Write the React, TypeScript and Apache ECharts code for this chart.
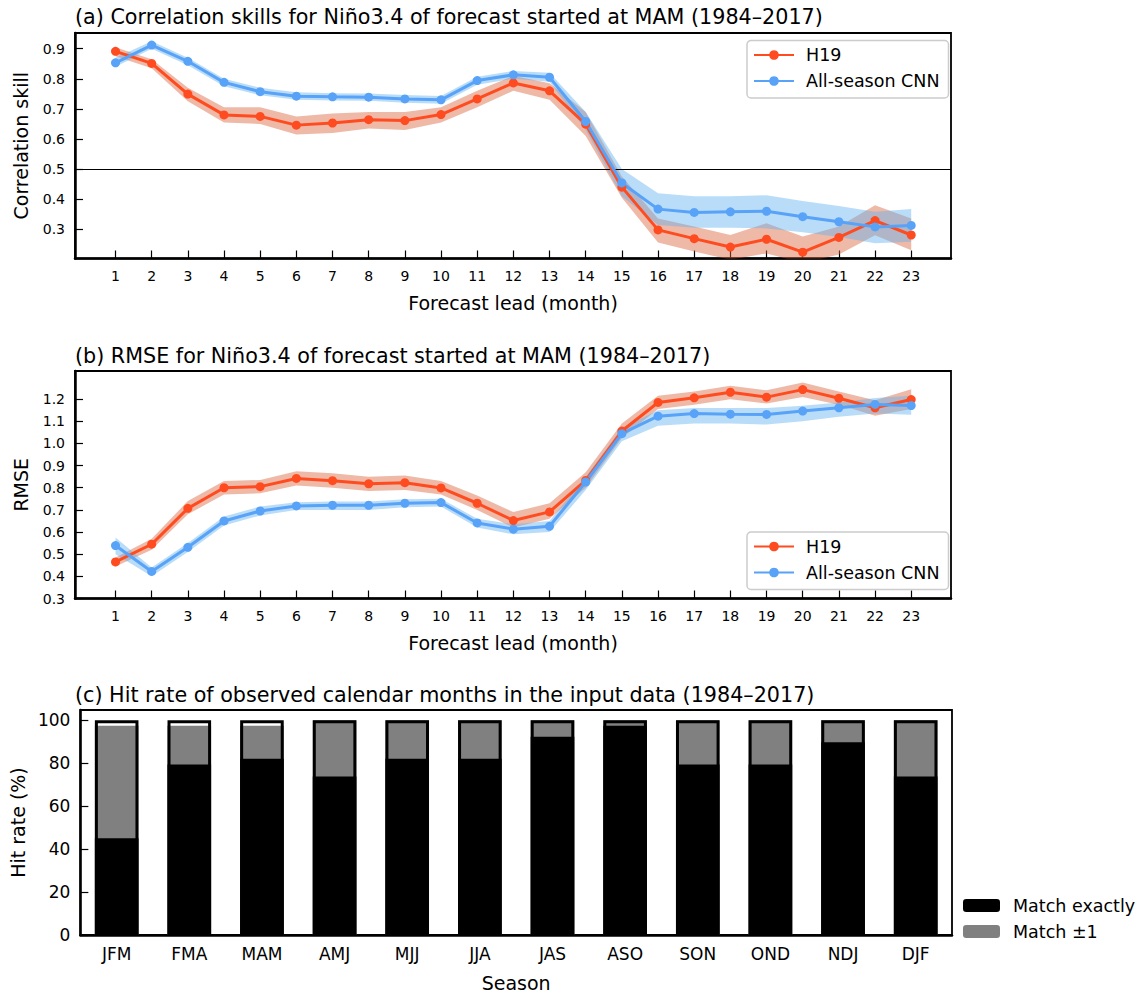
import React, { useEffect, useRef } from "react";
import * as echarts from "echarts";

const FONT = "DejaVu Sans";
const RED = "#ff4b20";
const BLUE = "#58a2f8";
const RED_BAND = "rgba(220,100,60,0.45)";
const BLUE_BAND = "rgba(100,180,240,0.45)";

const leads = [1, 2, 3, 4, 5, 6, 7, 8, 9, 10, 11, 12, 13, 14, 15, 16, 17, 18, 19, 20, 21, 22, 23];

// (a) correlation skill
const corrH19 = [0.891, 0.851, 0.749, 0.68, 0.675, 0.646, 0.653, 0.664, 0.661, 0.681, 0.733, 0.786, 0.76, 0.649, 0.44, 0.298, 0.269, 0.241, 0.267, 0.224, 0.273, 0.329, 0.281];
const corrH19Lo = [0.875, 0.835, 0.725, 0.655, 0.65, 0.615, 0.62, 0.635, 0.63, 0.655, 0.705, 0.76, 0.73, 0.61, 0.405, 0.256, 0.226, 0.199, 0.22, 0.188, 0.216, 0.28, 0.23];
const corrH19Hi = [0.905, 0.865, 0.77, 0.705, 0.705, 0.675, 0.685, 0.69, 0.69, 0.705, 0.76, 0.81, 0.785, 0.69, 0.475, 0.336, 0.309, 0.281, 0.32, 0.276, 0.309, 0.38, 0.336];
const corrCNN = [0.853, 0.912, 0.858, 0.788, 0.757, 0.742, 0.74, 0.739, 0.733, 0.73, 0.794, 0.813, 0.805, 0.658, 0.454, 0.367, 0.356, 0.358, 0.36, 0.342, 0.325, 0.308, 0.313];
const corrCNNLo = [0.84, 0.9, 0.845, 0.775, 0.745, 0.73, 0.728, 0.727, 0.72, 0.717, 0.78, 0.8, 0.79, 0.63, 0.41, 0.314, 0.305, 0.305, 0.303, 0.29, 0.274, 0.254, 0.259];
const corrCNNHi = [0.87, 0.925, 0.87, 0.8, 0.77, 0.755, 0.752, 0.751, 0.746, 0.743, 0.807, 0.826, 0.82, 0.69, 0.5, 0.42, 0.41, 0.41, 0.413, 0.394, 0.377, 0.358, 0.367];

// (b) RMSE
const rmseH19 = [0.465, 0.545, 0.707, 0.8, 0.805, 0.842, 0.832, 0.818, 0.823, 0.799, 0.73, 0.652, 0.691, 0.833, 1.056, 1.185, 1.206, 1.231, 1.209, 1.243, 1.204, 1.161, 1.198];
const rmseH19Lo = [0.445, 0.52, 0.68, 0.77, 0.775, 0.81, 0.8, 0.785, 0.79, 0.77, 0.7, 0.62, 0.66, 0.8, 1.025, 1.155, 1.175, 1.2, 1.18, 1.21, 1.175, 1.125, 1.155];
const rmseH19Hi = [0.485, 0.57, 0.74, 0.83, 0.835, 0.875, 0.865, 0.85, 0.855, 0.83, 0.765, 0.69, 0.73, 0.87, 1.09, 1.215, 1.235, 1.26, 1.24, 1.275, 1.235, 1.195, 1.245];
const rmseCNN = [0.539, 0.422, 0.531, 0.65, 0.695, 0.718, 0.721, 0.721, 0.73, 0.733, 0.641, 0.613, 0.626, 0.826, 1.044, 1.123, 1.135, 1.132, 1.131, 1.146, 1.161, 1.176, 1.171];
const rmseCNNLo = [0.5, 0.4, 0.51, 0.63, 0.675, 0.7, 0.7, 0.7, 0.712, 0.715, 0.62, 0.59, 0.6, 0.79, 1.01, 1.08, 1.09, 1.09, 1.085, 1.1, 1.12, 1.135, 1.13];
const rmseCNNHi = [0.575, 0.44, 0.55, 0.67, 0.715, 0.735, 0.738, 0.738, 0.748, 0.75, 0.66, 0.635, 0.65, 0.85, 1.07, 1.15, 1.16, 1.16, 1.16, 1.17, 1.185, 1.205, 1.215];

// (c) hit rate
const seasons = ["JFM", "FMA", "MAM", "AMJ", "MJJ", "JJA", "JAS", "ASO", "SON", "OND", "NDJ", "DJF"];
const matchExact = [45.1, 79.4, 82.1, 73.8, 82.1, 82.1, 92.3, 97.4, 79.4, 79.4, 89.7, 73.8];
const matchPM1 = [97.4, 97.4, 97.4, 100, 100, 100, 100, 100, 100, 100, 100, 100];
const totals = [100, 100, 100, 100, 100, 100, 100, 100, 100, 100, 100, 100];

const yTicksA = [0.3, 0.4, 0.5, 0.6, 0.7, 0.8, 0.9];
const yTicksB = [0.3, 0.4, 0.5, 0.6, 0.7, 0.8, 0.9, 1.0, 1.1, 1.2];
const yTicksC = [0, 20, 40, 60, 80, 100];

function band(gi: number, lo: number[], hi: number[], color: string) {
  return {
    type: "custom",
    xAxisIndex: gi,
    yAxisIndex: gi,
    clip: true,
    silent: true,
    z: 1,
    data: [[leads[0], lo[0]]],
    encode: { x: 0, y: 1 },
    renderItem: (_p: any, api: any) => {
      const pts: number[][] = [];
      for (let i = 0; i < leads.length; i++) pts.push(api.coord([leads[i], hi[i]]));
      for (let i = leads.length - 1; i >= 0; i--) pts.push(api.coord([leads[i], lo[i]]));
      return { type: "polygon", shape: { points: pts }, style: { fill: color } };
    },
  };
}

function line(gi: number, name: string, vals: number[], color: string, extra: any = {}) {
  return {
    type: "line",
    name,
    xAxisIndex: gi,
    yAxisIndex: gi,
    data: leads.map((x, i) => [x, vals[i]]),
    symbol: "circle",
    symbolSize: 9,
    lineStyle: { width: 3, color },
    itemStyle: { color },
    z: 3,
    ...extra,
  };
}

function leadAxis(gi: number) {
  return {
    gridIndex: gi,
    type: "value",
    min: -0.12,
    max: 24.1,
    axisLine: { show: true, onZero: false, lineStyle: { color: "#000", width: 2.5 } },
    axisTick: { show: true, inside: true, length: 8, customValues: leads, lineStyle: { color: "#000", width: 1.2 } },
    axisLabel: { customValues: leads, fontSize: 14, color: "#000", margin: 10, fontFamily: FONT },
    splitLine: { show: false },
    name: "Forecast lead (month)",
    nameLocation: "middle",
    nameGap: 35,
    nameTextStyle: { fontSize: 19, color: "#000", fontFamily: FONT },
  };
}

function valueAxis(gi: number, min: number, max: number, ticks: number[], name: string, digits: number, fs: number) {
  return {
    gridIndex: gi,
    type: "value",
    min,
    max,
    axisLine: { show: true, onZero: false, lineStyle: { color: "#000", width: 2.5 } },
    axisTick: { show: true, inside: true, length: 8, customValues: ticks, lineStyle: { color: "#000", width: 1.2 } },
    axisLabel: {
      customValues: ticks,
      fontSize: fs,
      color: "#000",
      margin: 10,
      fontFamily: FONT,
      formatter: (v: number) => v.toFixed(digits),
    },
    splitLine: { show: false },
    name,
    nameLocation: "middle",
    nameGap: 45,
    nameTextStyle: { fontSize: 19, color: "#000", fontFamily: FONT },
  };
}

const lineLegend = (top: number) => ({
  data: ["H19", "All-season CNN"],
  left: 747,
  top,
  orient: "vertical",
  itemWidth: 40,
  itemHeight: 12,
  itemGap: 6,
  padding: [4.5, 9, 7, 6],
  borderColor: "#cccccc",
  borderWidth: 1.5,
  borderRadius: 4,
  backgroundColor: "rgba(255,255,255,0.8)",
  selectedMode: false,
  textStyle: { fontSize: 17.5, color: "#000", fontFamily: FONT, lineHeight: 20, padding: [0, 0, 0, 7] },
});

export default function App() {
  const ref = useRef<HTMLDivElement>(null);
  useEffect(() => {
    document.body.style.margin = "0";
    const chart = echarts.init(ref.current!, null, { renderer: "svg" });
    const titleStyle = { fontSize: 20.7, fontWeight: "normal", color: "#000", fontFamily: FONT };
    chart.setOption({
      animation: false,
      backgroundColor: "#fff",
      textStyle: { fontFamily: FONT },
      title: [
        { text: "(a) Correlation skills for Niño3.4 of forecast started at MAM (1984–2017)", left: 75, top: 6, padding: 0, textStyle: titleStyle },
        { text: "(b) RMSE for Niño3.4 of forecast started at MAM (1984–2017)", left: 75, top: 345, padding: 0, textStyle: titleStyle },
        { text: "(c) Hit rate of observed calendar months in the input data (1984–2017)", left: 75, top: 684.5, padding: 0, textStyle: titleStyle },
      ],
      grid: [
        { left: 75, top: 33, width: 876, height: 225.5, show: true, borderColor: "#000", borderWidth: 1.8, backgroundColor: "transparent" },
        { left: 75, top: 371, width: 876, height: 227.5, show: true, borderColor: "#000", borderWidth: 1.8, backgroundColor: "transparent" },
        { left: 75, top: 710, width: 877, height: 227, show: true, borderColor: "#000", borderWidth: 1.8, backgroundColor: "transparent" },
      ],
      legend: [
        lineLegend(40.5),
        lineLegend(532),
        {
          data: ["Match exactly", "Match ±1"],
          left: 963,
          top: 895.5,
          orient: "vertical",
          itemWidth: 37,
          itemHeight: 13,
          itemGap: 6,
          padding: 0,
          selectedMode: false,
          textStyle: { fontSize: 17.5, color: "#000", fontFamily: FONT, lineHeight: 20, padding: [0, 0, 0, 8] },
        },
      ],
      xAxis: [
        leadAxis(0),
        leadAxis(1),
        {
          gridIndex: 2,
          type: "category",
          data: seasons,
          axisLine: { show: true, lineStyle: { color: "#000", width: 2.5 } },
          axisTick: { show: false },
          axisLabel: { fontSize: 17, color: "#000", margin: 10, fontFamily: FONT },
          name: "Season",
          nameLocation: "middle",
          nameGap: 38,
          nameTextStyle: { fontSize: 19, color: "#000", fontFamily: FONT },
        },
      ],
      yAxis: [
        valueAxis(0, 0.203, 0.952, yTicksA, "Correlation skill", 1, 14),
        valueAxis(1, 0.3, 1.327, yTicksB, "RMSE", 1, 14),
        valueAxis(2, 0, 104.75, yTicksC, "Hit rate (%)", 0, 17),
      ],
      series: [
        band(0, corrH19Lo, corrH19Hi, RED_BAND),
        band(0, corrCNNLo, corrCNNHi, BLUE_BAND),
        line(0, "H19", corrH19, RED, {
          markLine: {
            silent: true,
            symbol: ["none", "none"],
            label: { show: false },
            lineStyle: { color: "#000", width: 1.2, type: "solid" },
            data: [{ yAxis: 0.5 }],
            z: 2,
          },
        }),
        line(0, "All-season CNN", corrCNN, BLUE),
        band(1, rmseH19Lo, rmseH19Hi, RED_BAND),
        band(1, rmseCNNLo, rmseCNNHi, BLUE_BAND),
        line(1, "H19", rmseH19, RED),
        line(1, "All-season CNN", rmseCNN, BLUE),
        {
          type: "bar",
          name: "Match ±1",
          xAxisIndex: 2,
          yAxisIndex: 2,
          data: matchPM1,
          barWidth: "60%",
          barGap: "-100%",
          itemStyle: { color: "#808080" },
          z: 2,
        },
        {
          type: "bar",
          name: "Match exactly",
          xAxisIndex: 2,
          yAxisIndex: 2,
          data: matchExact,
          barWidth: "60%",
          barGap: "-100%",
          itemStyle: { color: "#000000" },
          z: 3,
        },
        {
          type: "bar",
          name: "Total",
          xAxisIndex: 2,
          yAxisIndex: 2,
          data: totals,
          barWidth: "60%",
          barGap: "-100%",
          itemStyle: { color: "rgba(0,0,0,0)", borderColor: "#000", borderWidth: 3 },
          z: 4,
          silent: true,
        },
      ],
    });
    return () => chart.dispose();
  }, []);
  return <div ref={ref} style={{ width: 1142, height: 993 }} />;
}
